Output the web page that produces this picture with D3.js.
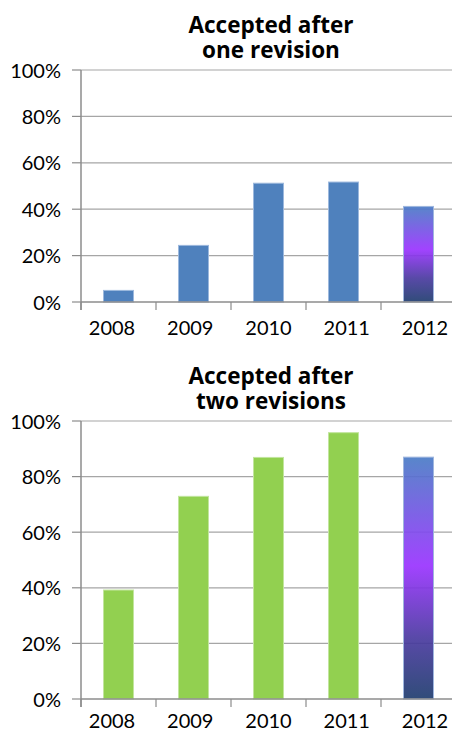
<!DOCTYPE html>
<html><head><meta charset="utf-8">
<script src="https://cdn.jsdelivr.net/npm/d3@7"></script>
<style>html,body{margin:0;padding:0;background:#fff;}svg{display:block;}</style>
</head><body>
<svg id="chart" width="452" height="731"></svg>
<script>
const years = ["2008", "2009", "2010", "2011", "2012"];
const oneRevision = [5.0, 24.4, 51.2, 51.7, 41.2];
const twoRevisions = [39.2, 72.9, 86.9, 95.8, 87.0];
const yTicks = [0, 20, 40, 60, 80, 100];
const titleOne = ["Accepted after", "one revision"];
const titleTwo = ["Accepted after", "two revisions"];

const svg = d3.select("#chart");
const font = "Lato, 'Open Sans', sans-serif";

const defs = svg.append("defs");
const grad = defs.append("linearGradient").attr("id", "g2012")
  .attr("x1", 0).attr("y1", 1).attr("x2", 0).attr("y2", 0);
grad.append("stop").attr("offset", "0%").attr("stop-color", "#1f3d6e");
grad.append("stop").attr("offset", "25%").attr("stop-color", "#4a3aa0");
grad.append("stop").attr("offset", "55%").attr("stop-color", "#9933ff");
grad.append("stop").attr("offset", "100%").attr("stop-color", "#4a7cc6");

function drawPanel(cfg) {
  const g = svg.append("g");
  const x = d3.scaleBand().domain(years).range([81, 456]).paddingInner(0.6).paddingOuter(0.3);
  const xTickScale = d3.scaleBand().domain(years).range([81, 456]);
  const xLabel = d3.scalePoint().domain(years).range([112, 425]);
  const y = d3.scaleLinear().domain([0, 100]).range([cfg.bottom, cfg.top]);

  // title (one text element per line)
  g.append("g").selectAll("text").data(cfg.title).join("text")
    .attr("x", 271).attr("y", (d, i) => cfg.titleY + i * 25)
    .attr("text-anchor", "middle").attr("font-family", "'Open Sans', sans-serif").attr("font-weight", 700)
    .attr("font-size", 22.5).attr("fill", "#000")
    .text(d => d);

  // gridlines
  g.append("g").selectAll("line").data(yTicks.filter(t => t > 0)).join("line")
    .attr("x1", 81).attr("x2", 452).attr("y1", d => y(d)).attr("y2", d => y(d))
    .attr("stroke", "#a6a6a6").attr("stroke-width", 1.2);

  // y tick marks
  g.append("g").selectAll("line").data(yTicks).join("line")
    .attr("x1", 72).attr("x2", 81).attr("y1", d => y(d)).attr("y2", d => y(d))
    .attr("stroke", "#8c8c8c").attr("stroke-width", 1.2);

  // y labels
  g.append("g").selectAll("text").data(yTicks).join("text")
    .attr("x", 61).attr("y", d => y(d) + 7.5).attr("text-anchor", "end")
    .attr("font-family", font).attr("font-size", 20).attr("fill", "#000")
    .text(d => d + "%");

  // bars
  g.append("g").selectAll("rect").data(years.map((yr, i) => ({yr, v: cfg.values[i]}))).join("rect")
    .attr("x", d => x(d.yr)).attr("width", x.bandwidth())
    .attr("y", d => y(d.v)).attr("height", d => y(0) - y(d.v))
    .attr("fill", d => d.yr === "2012" ? "url(#g2012)" : cfg.color)
    .attr("fill-opacity", d => d.yr === "2012" ? 0.92 : 1)
    .attr("stroke", d => d.yr === "2012" ? "#9fb6de" : cfg.stroke)
    .attr("stroke-width", 1);

  // x axis line
  g.append("line").attr("x1", 81).attr("x2", 452).attr("y1", y(0)).attr("y2", y(0))
    .attr("stroke", "#8c8c8c").attr("stroke-width", 1.5);
  // y axis line
  g.append("line").attr("x1", 81).attr("x2", 81).attr("y1", cfg.top).attr("y2", y(0) + 8)
    .attr("stroke", "#8c8c8c").attr("stroke-width", 1.5);
  // x tick marks
  g.append("g").selectAll("line").data(years).join("line")
    .attr("x1", d => xTickScale(d)).attr("x2", d => xTickScale(d))
    .attr("y1", y(0)).attr("y2", y(0) + 8)
    .attr("stroke", "#8c8c8c").attr("stroke-width", 1.2);

  // x labels
  g.append("g").selectAll("text").data(years).join("text")
    .attr("x", d => xLabel(d)).attr("y", y(0) + cfg.labelOffset).attr("text-anchor", "middle")
    .attr("font-family", font).attr("font-size", 20).attr("fill", "#000")
    .text(d => d);
}

drawPanel({title: titleOne, titleY: 33, top: 70, bottom: 302, values: oneRevision, color: "#4f81bd", stroke: "#9cb8dd", labelOffset: 33});
drawPanel({title: titleTwo, titleY: 384, top: 421, bottom: 699, values: twoRevisions, color: "#92d050", stroke: "#c2e59e", labelOffset: 29});
</script>
</body></html>
